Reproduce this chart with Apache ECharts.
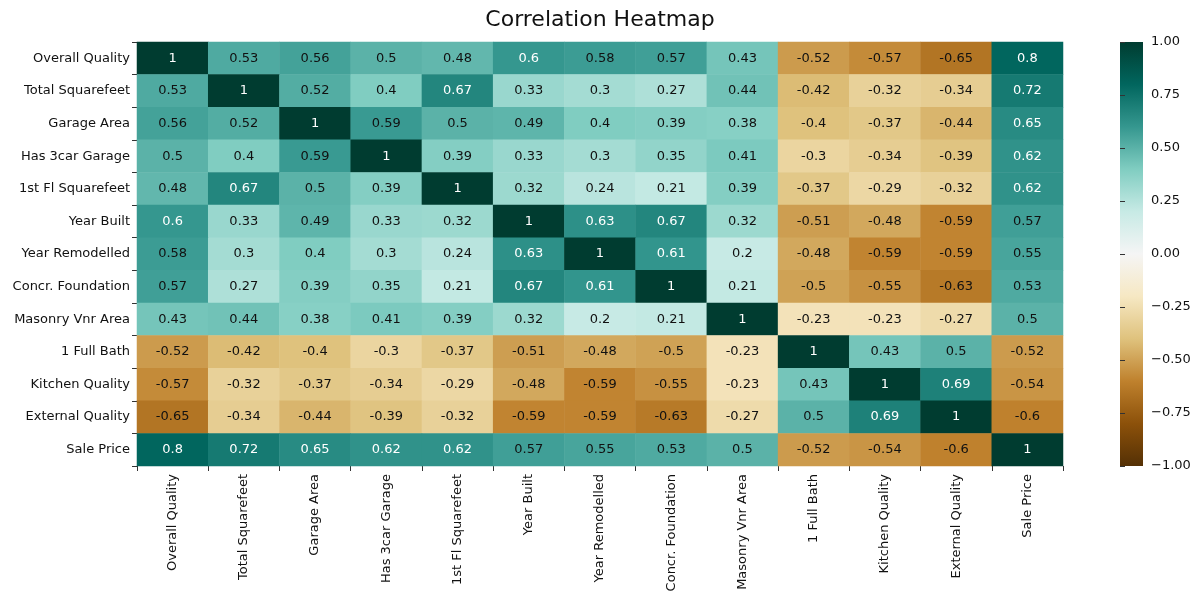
<!DOCTYPE html>
<html><head><meta charset="utf-8">
<script src="https://cdn.jsdelivr.net/npm/echarts@6/dist/echarts.min.js"></script>
<style>html,body{margin:0;padding:0;background:#fff}#c{width:1200px;height:602px}</style>
</head><body><div id="c"></div>
<script>
const labels = ["Overall Quality","Total Squarefeet","Garage Area","Has 3car Garage","1st Fl Squarefeet","Year Built","Year Remodelled","Concr. Foundation","Masonry Vnr Area","1 Full Bath","Kitchen Quality","External Quality","Sale Price"];
const matrix = [
[1,.53,.56,.5,.48,.6,.58,.57,.43,-.52,-.57,-.65,.8],
[.53,1,.52,.4,.67,.33,.3,.27,.44,-.42,-.32,-.34,.72],
[.56,.52,1,.59,.5,.49,.4,.39,.38,-.4,-.37,-.44,.65],
[.5,.4,.59,1,.39,.33,.3,.35,.41,-.3,-.34,-.39,.62],
[.48,.67,.5,.39,1,.32,.24,.21,.39,-.37,-.29,-.32,.62],
[.6,.33,.49,.33,.32,1,.63,.67,.32,-.51,-.48,-.59,.57],
[.58,.3,.4,.3,.24,.63,1,.61,.2,-.48,-.59,-.59,.55],
[.57,.27,.39,.35,.21,.67,.61,1,.21,-.5,-.55,-.63,.53],
[.43,.44,.38,.41,.39,.32,.2,.21,1,-.23,-.23,-.27,.5],
[-.52,-.42,-.4,-.3,-.37,-.51,-.48,-.5,-.23,1,.43,.5,-.52],
[-.57,-.32,-.37,-.34,-.29,-.48,-.59,-.55,-.23,.43,1,.69,-.54],
[-.65,-.34,-.44,-.39,-.32,-.59,-.59,-.63,-.27,.5,.69,1,-.6],
[.8,.72,.65,.62,.62,.57,.55,.53,.5,-.52,-.54,-.6,1]];
const colors = ['#543005','#8c510a','#bf812d','#dfc27d','#f6e8c3','#f5f5f5','#c7eae5','#80cdc1','#35978f','#01665e','#003c30'];
const data = [];
matrix.forEach((row,i)=>row.forEach((v,j)=>{
  data.push({value:[j,i,v],label:{color:(v>=0.6||v<=-0.75)?'#fff':'#111'}});
}));
const stops = colors.slice().reverse().map((c,k)=>({offset:k/(colors.length-1),color:c}));
const chart = echarts.init(document.getElementById('c'));
chart.setOption({
  animation:false,
  title:{text:'Correlation Heatmap',left:'center',top:4,textStyle:{fontSize:22,fontWeight:'normal',color:'#111',fontFamily:'DejaVu Sans'}},
  grid:[{left:137,right:137,top:42,height:424},
        {left:1120,width:23,top:42,height:424,show:true,borderWidth:0,backgroundColor:new echarts.graphic.LinearGradient(0,0,0,1,stops)}],
  xAxis:[{type:'category',data:labels,gridIndex:0,axisLine:{show:false},axisTick:{show:true,length:5,lineStyle:{color:'#333'}},splitLine:{show:false},
    axisLabel:{rotate:90,fontSize:13,color:'#111',fontFamily:'DejaVu Sans',interval:0}},
    {type:'value',gridIndex:1,show:false,min:0,max:1}],
  yAxis:[{type:'category',data:labels,inverse:true,gridIndex:0,axisLine:{show:false},axisTick:{show:true,length:5,lineStyle:{color:'#333'}},
    axisLabel:{fontSize:13,color:'#111',fontFamily:'DejaVu Sans',interval:0,margin:7}},
    {type:'value',gridIndex:1,position:'right',min:-1,max:1,interval:0.25,axisLine:{show:false},splitLine:{show:false},
     axisTick:{show:true,inside:false,length:5,lineStyle:{color:'#333'}},
     axisLabel:{fontSize:13,color:'#111',fontFamily:'DejaVu Sans',margin:8,formatter:v=>v.toFixed(2).replace('-','−')}}],
  visualMap:{type:'continuous',min:-1,max:1,seriesIndex:0,show:false,inRange:{color:colors}},
  series:[{type:'heatmap',data:data,xAxisIndex:0,yAxisIndex:0,
    label:{show:true,fontSize:13,fontFamily:'DejaVu Sans',formatter:p=>String(p.value[2])},
    itemStyle:{borderWidth:0}}]
});
</script></body></html>
